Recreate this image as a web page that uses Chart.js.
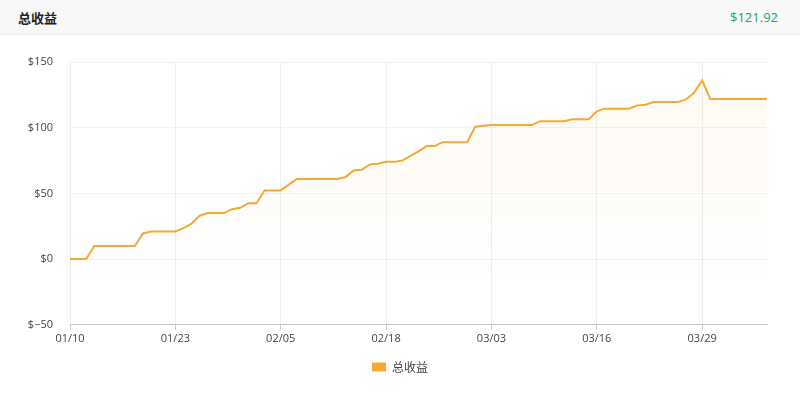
<!DOCTYPE html>
<html lang="zh">
<head>
<meta charset="UTF-8">
<title>总收益</title>
<script src="https://cdn.jsdelivr.net/npm/chart.js"></script>
<style>
    body {
        margin: 0;
        background: #ffffff;
        font-family: 'Open Sans', 'Noto Sans CJK SC', sans-serif;
    }
    .header {
        height: 34px;
        background: #f8f8f8;
        border-bottom: 1px solid #ececec;
        display: flex;
        align-items: center;
        justify-content: space-between;
        padding: 0 22px 0 18px;
        font-size: 13px;
    }
    .title {
        font-weight: bold;
        color: #222;
        font-family: 'Noto Sans CJK SC', sans-serif;
    }
    .total {
        color: #22a463;
    }
    .chart-box {
        position: relative;
        width: 800px;
        height: 359px;
    }
</style>
</head>
<body>
<div class="header">
    <span class="title">总收益</span>
    <span class="total">$121.92</span>
</div>
<div class="chart-box">
    <canvas id="profitChart"></canvas>
</div>

<script>
const seriesName = '总收益';

const dates = [
    '01/10', '01/11', '01/12', '01/13', '01/14', '01/15', '01/16', '01/17', '01/18', '01/19', '01/20',
    '01/21', '01/22', '01/23', '01/24', '01/25', '01/26', '01/27', '01/28', '01/29', '01/30', '01/31',
    '02/01', '02/02', '02/03', '02/04', '02/05', '02/06', '02/07', '02/08', '02/09', '02/10', '02/11',
    '02/12', '02/13', '02/14', '02/15', '02/16', '02/17', '02/18', '02/19', '02/20', '02/21', '02/22',
    '02/23', '02/24', '02/25', '02/26', '02/27', '02/28',
    '03/01', '03/02', '03/03', '03/04', '03/05', '03/06', '03/07', '03/08', '03/09', '03/10', '03/11',
    '03/12', '03/13', '03/14', '03/15', '03/16', '03/17', '03/18', '03/19', '03/20', '03/21', '03/22',
    '03/23', '03/24', '03/25', '03/26', '03/27', '03/28', '03/29', '03/30', '03/31',
    '04/01', '04/02', '04/03', '04/04', '04/05', '04/06'
];

const profit = [
    0, 0, 0, 10, 10, 10, 10, 10, 10, 19.5, 21,
    21, 21, 21, 23.5, 27, 33, 35, 35, 35, 38, 39,
    42.5, 42.5, 52.3, 52.3, 52.3, 56.7, 61, 61, 61, 61, 61,
    61, 62.5, 67.5, 68, 72, 72.5, 74, 74, 75, 78.5, 82,
    86, 86, 89, 89, 89, 89,
    100.8, 101.5, 102, 102, 102, 102, 102, 102, 105, 105, 105,
    105, 106.5, 106.5, 106.5, 112.5, 114.5, 114.5, 114.5, 114.5, 117, 117.5,
    119.5, 119.5, 119.5, 119.5, 121.5, 126.5, 136, 121.92, 121.92, 121.92,
    121.92, 121.92, 121.92, 121.92, 121.92
];

const yTicks = [-50, 0, 50, 100, 150];
const labelEvery = 13;

const lineColor = '#f6a835';

const ctx = document.getElementById('profitChart').getContext('2d');
const fillGradient = ctx.createLinearGradient(0, 28, 0, 250);
fillGradient.addColorStop(0, 'rgba(250, 170, 60, 0.07)');
fillGradient.addColorStop(1, 'rgba(250, 170, 60, 0)');

new Chart(ctx, {
    type: 'line',
    data: {
        labels: dates,
        datasets: [{
            label: seriesName,
            data: profit,
            borderColor: lineColor,
            backgroundColor: fillGradient,
            borderWidth: 2,
            pointRadius: 0,
            tension: 0,
            fill: 'start'
        }]
    },
    options: {
        responsive: true,
        maintainAspectRatio: false,
        animation: false,
        layout: {
            padding: { left: 0, right: 0, top: 27, bottom: 11 }
        },
        plugins: {
            tooltip: { enabled: false },
            legend: {
                position: 'bottom',
                labels: {
                    boxWidth: 14,
                    boxHeight: 9,
                    color: '#444',
                    padding: 14,
                    font: { size: 12, family: "'Noto Sans CJK SC', sans-serif" },
                    generateLabels: function (chart) {
                        return [{
                            text: seriesName,
                            fillStyle: lineColor,
                            strokeStyle: lineColor,
                            lineWidth: 0,
                            fontColor: '#444',
                            datasetIndex: 0
                        }];
                    }
                }
            }
        },
        scales: {
            x: {
                ticks: {
                    autoSkip: false,
                    maxRotation: 0,
                    color: '#444',
                    padding: 2,
                    font: { size: 11, family: "'Open Sans', sans-serif" },
                    callback: function (value, index) {
                        return index % labelEvery === 0 ? dates[index] : null;
                    }
                },
                grid: {
                    color: '#eeeeee',
                    tickLength: 5,
                    tickColor: '#cccccc'
                },
                border: { color: '#c8c8c8' }
            },
            y: {
                min: -50,
                max: 150,
                afterBuildTicks: function (scale) {
                    scale.ticks = yTicks.map(v => ({ value: v }));
                },
                afterFit: function (scale) {
                    scale.width = 70;
                },
                ticks: {
                    color: '#444',
                    padding: 17,
                    font: { size: 11, family: "'Open Sans', sans-serif" },
                    callback: function (value) {
                        return value < 0 ? '$\u2212' + Math.abs(value) : '$' + value;
                    }
                },
                grid: {
                    color: '#f1f1f1',
                    drawTicks: false
                },
                border: { display: false }
            },
            // empty right axis, only keeps the plot clear of the right edge
            yRight: {
                position: 'right',
                min: -50,
                max: 150,
                ticks: { display: false },
                grid: { display: false, drawTicks: false },
                border: { display: false },
                afterFit: function (scale) {
                    scale.width = 33;
                }
            }
        }
    }
});
</script>
</body>
</html>
